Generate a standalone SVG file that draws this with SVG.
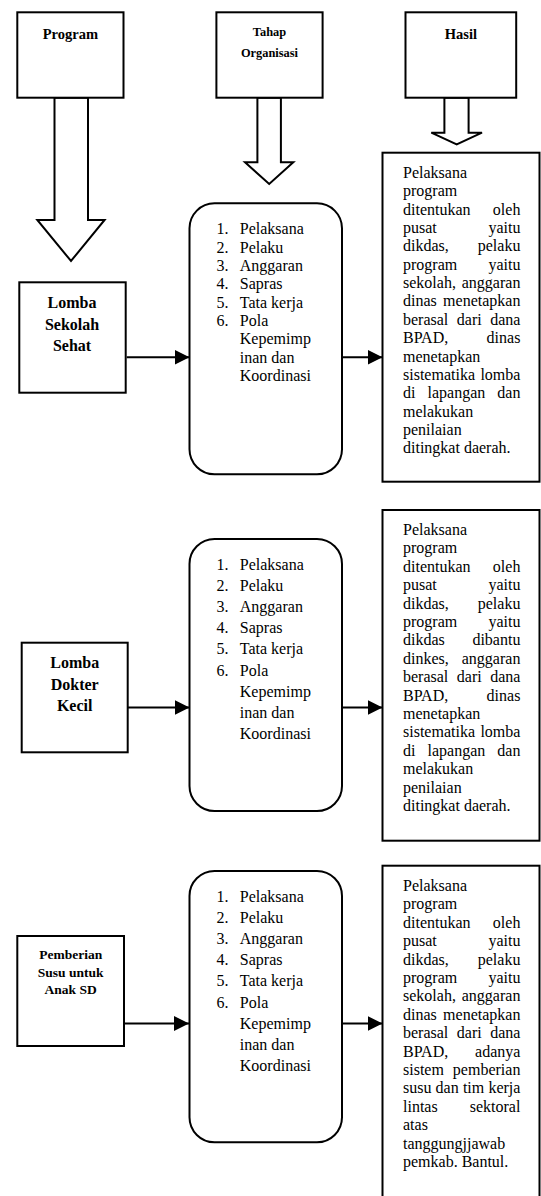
<svg xmlns="http://www.w3.org/2000/svg" width="541" height="1196" viewBox="0 0 541 1196">
<style>
  .box{fill:#fff;stroke:#000;stroke-width:2}
  .hd{font-family:"Liberation Serif","Times New Roman",serif;font-weight:bold;text-anchor:middle;fill:#000}
  .lb{font-family:"Liberation Serif","Times New Roman",serif;font-weight:bold;font-size:16px;text-anchor:middle;fill:#000}
  .tx{font-family:"Liberation Serif","Times New Roman",serif;font-size:16px;fill:#000}
  .r{text-anchor:end}
  .ln{stroke:#000;stroke-width:2;fill:none}
  .blk{fill:#fff;stroke:#000;stroke-width:2;stroke-linejoin:miter}
</style>
<defs>
  <marker id="ah" markerUnits="userSpaceOnUse" markerWidth="16" markerHeight="16" refX="15" refY="7.5" orient="auto">
    <path d="M0,0 L15,7.5 L0,15 z" fill="#000"/>
  </marker>
</defs>
<rect width="541" height="1196" fill="#fff"/>

<g id="connectors">
  <polygon class="blk" points="54.5,97.7 88,97.7 88,220 104.6,220 71,261 37.3,220 54.5,220"/>
  <polygon class="blk" points="257.4,97.7 280.9,97.7 280.9,162.3 293.3,162.3 269.2,184 245,162.3 257.4,162.3"/>
  <polygon class="blk" points="444.4,97.7 468.6,97.7 468.6,132.7 482,132.7 456.7,144.3 431.3,132.7 444.4,132.7"/>
  <line class="ln" x1="126.7" y1="357.3" x2="189.5" y2="357.3" marker-end="url(#ah)"/>
  <line class="ln" x1="342" y1="357.3" x2="382.5" y2="357.3" marker-end="url(#ah)"/>
  <line class="ln" x1="127.7" y1="707.5" x2="189.5" y2="707.5" marker-end="url(#ah)"/>
  <line class="ln" x1="342" y1="707.5" x2="382.5" y2="707.5" marker-end="url(#ah)"/>
  <line class="ln" x1="124" y1="1023.5" x2="189" y2="1023.5" marker-end="url(#ah)"/>
  <line class="ln" x1="342" y1="1023.5" x2="382.5" y2="1023.5" marker-end="url(#ah)"/>
</g>

<g id="hdr-program">
  <rect class="box" x="17.3" y="12.3" width="106.2" height="85.4"/>
  <text class="hd" x="70.4" y="38.5" font-size="14.5">Program</text>
</g>
<g id="hdr-tahap">
  <rect class="box" x="216.4" y="12.3" width="106.2" height="85.4"/>
  <text class="hd" x="269.5" y="36" font-size="12.4">Tahap</text>
  <text class="hd" x="269.5" y="57" font-size="12.4">Organisasi</text>
</g>
<g id="hdr-hasil">
  <rect class="box" x="405.5" y="12.3" width="110.7" height="85.4"/>
  <text class="hd" x="460.9" y="38.5" font-size="14.5">Hasil</text>
</g>

<g id="prog-lss">
  <rect class="box" x="19.3" y="282.3" width="106.4" height="110.4"/>
  <text class="lb" x="72" y="308.3">Lomba</text>
  <text class="lb" x="72" y="329.5">Sekolah</text>
  <text class="lb" x="72" y="350.7">Sehat</text>
</g>
<g id="prog-ldk">
  <rect class="box" x="21.7" y="642.7" width="106" height="109.6"/>
  <text class="lb" x="74.7" y="667.7">Lomba</text>
  <text class="lb" x="74.7" y="689.5">Dokter</text>
  <text class="lb" x="74.7" y="711">Kecil</text>
</g>
<g id="prog-susu">
  <rect class="box" x="17.3" y="936" width="106.7" height="110"/>
  <text class="lb" x="70.7" y="959.3" font-size="13.5" style="font-size:13.5px">Pemberian</text>
  <text class="lb" x="70.7" y="976.7" style="font-size:13.5px">Susu untuk</text>
  <text class="lb" x="70.7" y="994" style="font-size:13.5px">Anak SD</text>
</g>

<g id="org-1">
  <rect class="box" x="189.5" y="203.3" width="152.5" height="271" rx="25" ry="25"/>
  <g class="tx">
    <text x="216.4" y="234.2">1.</text><text x="239.8" y="234.2">Pelaksana</text>
    <text x="216.4" y="252.55">2.</text><text x="239.8" y="252.55">Pelaku</text>
    <text x="216.4" y="270.9">3.</text><text x="239.8" y="270.9">Anggaran</text>
    <text x="216.4" y="289.25">4.</text><text x="239.8" y="289.25">Sapras</text>
    <text x="216.4" y="307.6">5.</text><text x="239.8" y="307.6">Tata kerja</text>
    <text x="216.4" y="325.95">6.</text><text x="239.8" y="325.95">Pola</text>
    <text x="239.8" y="344.3">Kepemimp</text>
    <text x="239.8" y="362.65">inan dan</text>
    <text x="239.8" y="381">Koordinasi</text>
  </g>
</g>
<g id="org-2">
  <rect class="box" x="189.5" y="539" width="152.5" height="272" rx="25" ry="25"/>
  <g class="tx">
    <text x="216.4" y="570">1.</text><text x="239.8" y="570">Pelaksana</text>
    <text x="216.4" y="591.1">2.</text><text x="239.8" y="591.1">Pelaku</text>
    <text x="216.4" y="612.2">3.</text><text x="239.8" y="612.2">Anggaran</text>
    <text x="216.4" y="633.3">4.</text><text x="239.8" y="633.3">Sapras</text>
    <text x="216.4" y="654.4">5.</text><text x="239.8" y="654.4">Tata kerja</text>
    <text x="216.4" y="675.5">6.</text><text x="239.8" y="675.5">Pola</text>
    <text x="239.8" y="696.6">Kepemimp</text>
    <text x="239.8" y="717.7">inan dan</text>
    <text x="239.8" y="738.8">Koordinasi</text>
  </g>
</g>
<g id="org-3">
  <rect class="box" x="189.5" y="871" width="152.5" height="271.3" rx="25" ry="25"/>
  <g class="tx">
    <text x="216.4" y="901.5">1.</text><text x="239.8" y="901.5">Pelaksana</text>
    <text x="216.4" y="922.7">2.</text><text x="239.8" y="922.7">Pelaku</text>
    <text x="216.4" y="943.9">3.</text><text x="239.8" y="943.9">Anggaran</text>
    <text x="216.4" y="965.1">4.</text><text x="239.8" y="965.1">Sapras</text>
    <text x="216.4" y="986.3">5.</text><text x="239.8" y="986.3">Tata kerja</text>
    <text x="216.4" y="1007.5">6.</text><text x="239.8" y="1007.5">Pola</text>
    <text x="239.8" y="1028.7">Kepemimp</text>
    <text x="239.8" y="1049.9">inan dan</text>
    <text x="239.8" y="1071.1">Koordinasi</text>
  </g>
</g>

<g id="hasil-1">
  <rect class="box" x="382.5" y="152.7" width="157" height="329"/>
  <g class="tx">
    <text x="403" y="178">Pelaksana</text>
    <text x="403" y="196.35">program</text>
    <text x="403" y="214.7">ditentukan</text><text class="r" x="520.4" y="214.7">oleh</text>
    <text x="403" y="233.05">pusat</text><text class="r" x="520.4" y="233.05">yaitu</text>
    <text x="403" y="251.4">dikdas,</text><text class="r" x="520.4" y="251.4">pelaku</text>
    <text x="403" y="269.75">program</text><text class="r" x="520.4" y="269.75">yaitu</text>
    <text x="403" y="288.1">sekolah,</text><text class="r" x="520.4" y="288.1">anggaran</text>
    <text x="403" y="306.45">dinas</text><text class="r" x="520.4" y="306.45">menetapkan</text>
    <text x="403" y="324.8">berasal</text><text x="456.8" y="324.8">dari</text><text class="r" x="520.4" y="324.8">dana</text>
    <text x="403" y="343.15">BPAD,</text><text class="r" x="520.4" y="343.15">dinas</text>
    <text x="403" y="361.5">menetapkan</text>
    <text x="403" y="379.85">sistematika</text><text class="r" x="520.4" y="379.85">lomba</text>
    <text x="403" y="398.2">di</text><text x="427.5" y="398.2">lapangan</text><text class="r" x="520.4" y="398.2">dan</text>
    <text x="403" y="416.55">melakukan</text>
    <text x="403" y="434.9">penilaian</text>
    <text x="403" y="453.25">ditingkat daerah.</text>
  </g>
</g>

<g id="hasil-2">
  <rect class="box" x="382.5" y="510" width="157" height="330.7"/>
  <g class="tx">
    <text x="403" y="535">Pelaksana</text>
    <text x="403" y="553.4">program</text>
    <text x="403" y="571.8">ditentukan</text><text class="r" x="520.4" y="571.8">oleh</text>
    <text x="403" y="590.2">pusat</text><text class="r" x="520.4" y="590.2">yaitu</text>
    <text x="403" y="608.6">dikdas,</text><text class="r" x="520.4" y="608.6">pelaku</text>
    <text x="403" y="627">program</text><text class="r" x="520.4" y="627">yaitu</text>
    <text x="403" y="645.4">dikdas</text><text class="r" x="520.4" y="645.4">dibantu</text>
    <text x="403" y="663.8">dinkes,</text><text class="r" x="520.4" y="663.8">anggaran</text>
    <text x="403" y="682.2">berasal</text><text x="456.8" y="682.2">dari</text><text class="r" x="520.4" y="682.2">dana</text>
    <text x="403" y="700.6">BPAD,</text><text class="r" x="520.4" y="700.6">dinas</text>
    <text x="403" y="719">menetapkan</text>
    <text x="403" y="737.4">sistematika</text><text class="r" x="520.4" y="737.4">lomba</text>
    <text x="403" y="755.8">di</text><text x="427.5" y="755.8">lapangan</text><text class="r" x="520.4" y="755.8">dan</text>
    <text x="403" y="774.2">melakukan</text>
    <text x="403" y="792.6">penilaian</text>
    <text x="403" y="811">ditingkat daerah.</text>
  </g>
</g>

<g id="hasil-3">
  <rect class="box" x="382.5" y="865.7" width="157" height="345"/>
  <g class="tx">
    <text x="403" y="891">Pelaksana</text>
    <text x="403" y="909.4">program</text>
    <text x="403" y="927.8">ditentukan</text><text class="r" x="520.4" y="927.8">oleh</text>
    <text x="403" y="946.2">pusat</text><text class="r" x="520.4" y="946.2">yaitu</text>
    <text x="403" y="964.6">dikdas,</text><text class="r" x="520.4" y="964.6">pelaku</text>
    <text x="403" y="983">program</text><text class="r" x="520.4" y="983">yaitu</text>
    <text x="403" y="1001.4">sekolah,</text><text class="r" x="520.4" y="1001.4">anggaran</text>
    <text x="403" y="1019.8">dinas</text><text class="r" x="520.4" y="1019.8">menetapkan</text>
    <text x="403" y="1038.2">berasal</text><text x="456.8" y="1038.2">dari</text><text class="r" x="520.4" y="1038.2">dana</text>
    <text x="403" y="1056.6">BPAD,</text><text class="r" x="520.4" y="1056.6">adanya</text>
    <text x="403" y="1075">sistem</text><text class="r" x="520.4" y="1075">pemberian</text>
    <text x="403" y="1093.4">susu</text><text x="435.6" y="1093.4">dan</text><text x="462.9" y="1093.4">tim</text><text class="r" x="520.4" y="1093.4">kerja</text>
    <text x="403" y="1111.8">lintas</text><text class="r" x="520.4" y="1111.8">sektoral</text>
    <text x="403" y="1130.2">atas</text>
    <text x="403" y="1148.6">tanggungjjawab</text>
    <text x="403" y="1167">pemkab. Bantul.</text>
  </g>
</g>
</svg>
